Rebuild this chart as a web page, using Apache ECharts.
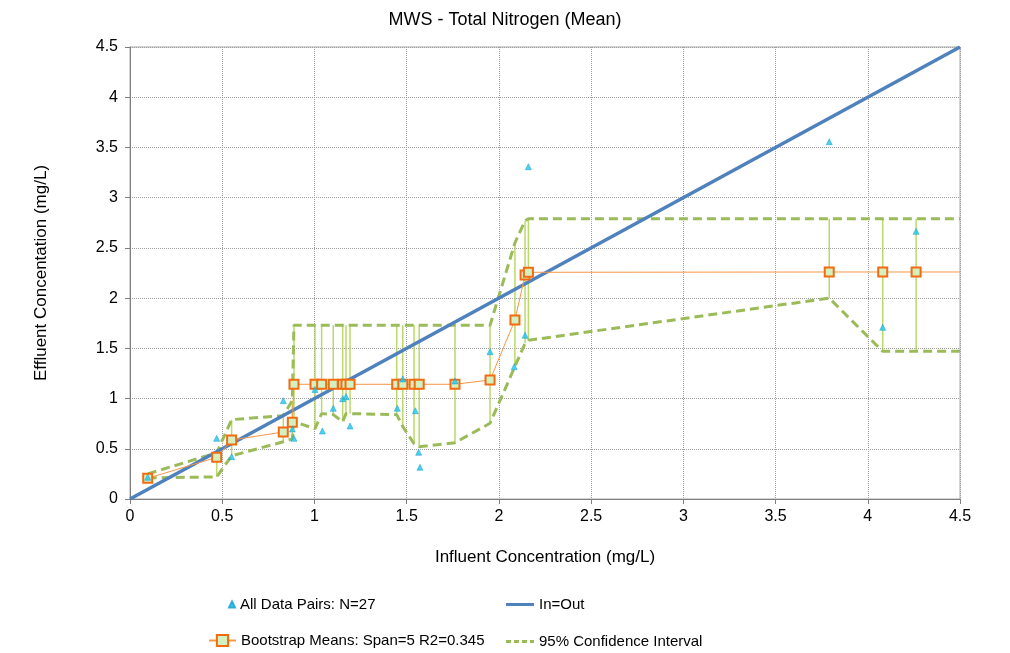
<!DOCTYPE html>
<html>
<head>
<meta charset="utf-8">
<script src="https://cdn.jsdelivr.net/npm/echarts@6/dist/echarts.min.js"></script>
<style>
  html, body { margin: 0; padding: 0; background: #fff; }
  #chart { width: 1010px; height: 653px; }
</style>
</head>
<body>
<div id="chart"></div>
<script>
// Influent / effluent total nitrogen pairs (mg/L)
const pairsIn  = [0.096, 0.470, 0.551, 0.831, 0.880, 0.889, 1.003, 1.043, 1.102, 1.153, 1.171, 1.193, 1.449, 1.479, 1.547, 1.565, 1.572, 1.762, 1.952, 2.083, 2.142, 2.160, 3.791, 4.081, 4.262];
const pairsOut = [0.216, 0.604, 0.421, 0.979, 0.697, 0.604, 1.090, 0.677, 0.903, 0.999, 1.019, 0.727, 0.903, 1.195, 0.879, 0.465, 0.316, 1.175, 1.467, 1.317, 1.630, 3.308, 3.557, 1.709, 2.665];

// Bootstrap means with 95% confidence bounds, evaluated at each influent value
const bootX     = [0.096, 0.470, 0.551, 0.831, 0.880, 0.889, 1.003, 1.039, 1.102, 1.153, 1.171, 1.193, 1.446, 1.479, 1.540, 1.568, 1.762, 1.952, 2.087, 2.142, 2.160, 3.791, 4.081, 4.262];
const bootMean  = [0.206, 0.415, 0.587, 0.667, 0.764, 1.142, 1.142, 1.142, 1.142, 1.142, 1.142, 1.142, 1.142, 1.142, 1.142, 1.142, 1.142, 1.185, 1.782, 2.230, 2.257, 2.260, 2.260, 2.260];
const ciUpper   = [0.250, 0.460, 0.790, 0.830, 0.980, 1.730, 1.730, 1.730, 1.730, 1.730, 1.730, 1.730, 1.730, 1.730, 1.730, 1.730, 1.730, 1.730, 2.550, 2.770, 2.790, 2.790, 2.790, 2.790];
const ciLower   = [0.210, 0.220, 0.430, 0.570, 0.600, 0.770, 0.700, 0.850, 0.840, 0.770, 0.850, 0.850, 0.840, 0.720, 0.550, 0.520, 0.560, 0.754, 1.320, 1.550, 1.580, 2.000, 1.470, 1.470];
// Value carried flat to the right edge of the plot
const edgeX = 4.5;

const identityLine = [[0, 0], [4.5, 4.5]];
const axisTicks = ['0', '0.5', '1', '1.5', '2', '2.5', '3', '3.5', '4', '4.5'];

const FONT = '"Liberation Sans", Arial, sans-serif';

const scatterData = pairsIn.map((x, i) => [x, pairsOut[i]]);
const meanData = bootX.map((x, i) => [x, bootMean[i]]);
meanData.push({ value: [edgeX, bootMean[bootMean.length - 1]], symbol: 'none' });
const upperData = bootX.map((x, i) => [x, ciUpper[i]]);
upperData.push([edgeX, ciUpper[ciUpper.length - 1]]);
const lowerData = bootX.map((x, i) => [x, ciLower[i]]);
lowerData.push([edgeX, ciLower[ciLower.length - 1]]);
const barData = bootX.map((x, i) => [x, ciLower[i], ciUpper[i]]);

const chart = echarts.init(document.getElementById('chart'));

const SCATTER_NAME = 'All Data Pairs: N=27';
const LINE_NAME = 'In=Out';
const MEAN_NAME = 'Bootstrap Means: Span=5 R2=0.345';
const CI_NAME = '95% Confidence Interval';

const legendText = { fontFamily: FONT, fontSize: 15, color: '#000' };
// plain-stroke legend glyphs (solid bar, dashed bar)
const solidIcon = 'path://M0,0H28V3H0Z';
const dashIcon = 'path://M0,0H5V3H0Z M8,0H13V3H8Z M16,0H21V3H16Z M24,0H28V3H24Z';

chart.setOption({
  animation: false,
  backgroundColor: '#fff',
  title: {
    text: 'MWS - Total Nitrogen (Mean)',
    left: 'center',
    top: 6,
    textStyle: { fontFamily: FONT, fontSize: 18, fontWeight: 'normal', color: '#000' }
  },
  grid: {
    left: 130, right: 50, top: 47, bottom: 154,
    show: true, borderColor: '#a6a6a6', borderWidth: 1
  },
  legend: [
    { data: [SCATTER_NAME], left: 228, top: 597, padding: 0, itemWidth: 6, itemHeight: 6, textStyle: legendText },
    { data: [{ name: LINE_NAME, icon: solidIcon, itemStyle: { color: '#4f81bd' } }], left: 506, top: 597, padding: 0, itemWidth: 28, itemHeight: 3, textStyle: legendText },
    { data: [MEAN_NAME], left: 208, top: 633, padding: 0, itemWidth: 27, itemHeight: 14, textStyle: legendText },
    { data: [{ name: CI_NAME, icon: dashIcon, itemStyle: { color: '#9bbb59' } }], left: 506, top: 634, padding: 0, itemWidth: 28, itemHeight: 3, textStyle: legendText }
  ],
  xAxis: {
    type: 'value', min: 0, max: 4.5, interval: 0.5,
    name: 'Influent Concentration (mg/L)',
    nameLocation: 'middle', nameGap: 50,
    nameTextStyle: { fontFamily: FONT, fontSize: 17, color: '#000' },
    axisLine: { show: true, onZero: false, lineStyle: { color: '#7f7f7f', width: 1 } },
    axisTick: { show: true, inside: false, length: 5, lineStyle: { color: '#7f7f7f' } },
    axisLabel: {
      fontFamily: FONT, fontSize: 16, color: '#000', margin: 10,
      formatter: (v) => axisTicks[Math.round(v / 0.5)]
    },
    splitLine: { show: true, lineStyle: { type: 'dotted', color: '#a0a0a0', width: 1 } }
  },
  yAxis: {
    type: 'value', min: 0, max: 4.5, interval: 0.5,
    name: 'Effluent Concentation (mg/L)',
    nameLocation: 'middle', nameGap: 80,
    nameTextStyle: { fontFamily: FONT, fontSize: 17, color: '#000' },
    axisLine: { show: true, onZero: false, lineStyle: { color: '#7f7f7f', width: 1 } },
    axisTick: { show: true, inside: false, length: 5, lineStyle: { color: '#7f7f7f' } },
    axisLabel: {
      fontFamily: FONT, fontSize: 16, color: '#000', margin: 12,
      formatter: (v) => axisTicks[Math.round(v / 0.5)]
    },
    splitLine: { show: true, lineStyle: { type: 'dotted', color: '#a0a0a0', width: 1 } }
  },
  series: [
    {
      // vertical confidence bars at each influent value
      type: 'custom',
      name: 'ciBars',
      z: 1,
      silent: true,
      encode: { x: 0, y: [1, 2] },
      data: barData,
      renderItem: (params, api) => {
        const p0 = api.coord([api.value(0), api.value(1)]);
        const p1 = api.coord([api.value(0), api.value(2)]);
        return {
          type: 'line',
          shape: { x1: p0[0], y1: p0[1], x2: p1[0], y2: p1[1] },
          style: { stroke: '#a9cf45', lineWidth: 1.5, opacity: 0.8 }
        };
      }
    },
    {
      name: CI_NAME,
      type: 'line',
      z: 2,
      data: upperData,
      symbol: 'none',
      color: '#9bbb59',
      lineStyle: { color: '#9bbb59', width: 3, type: [9, 5] }
    },
    {
      name: CI_NAME,
      type: 'line',
      z: 2,
      data: lowerData,
      symbol: 'none',
      color: '#9bbb59',
      lineStyle: { color: '#9bbb59', width: 3, type: [9, 5] }
    },
    {
      name: LINE_NAME,
      type: 'line',
      z: 3,
      data: identityLine,
      symbol: 'none',
      color: '#4f81bd',
      lineStyle: { color: '#4f81bd', width: 3.5 }
    },
    {
      name: MEAN_NAME,
      type: 'line',
      z: 4,
      data: meanData,
      symbol: 'rect',
      symbolSize: 9,
      showAllSymbol: true,
      color: '#f26b10',
      lineStyle: { color: '#f79646', width: 1 },
      itemStyle: { color: '#d3f0c0', borderColor: '#f26b10', borderWidth: 2 }
    },
    {
      name: SCATTER_NAME,
      type: 'scatter',
      z: 5,
      data: scatterData,
      symbol: 'triangle',
      symbolSize: 6,
      color: '#22c4ea',
      itemStyle: { color: '#22c4ea', borderColor: '#0a9fd2', borderWidth: 0.6 }
    }
  ]
});
</script>
</body>
</html>
